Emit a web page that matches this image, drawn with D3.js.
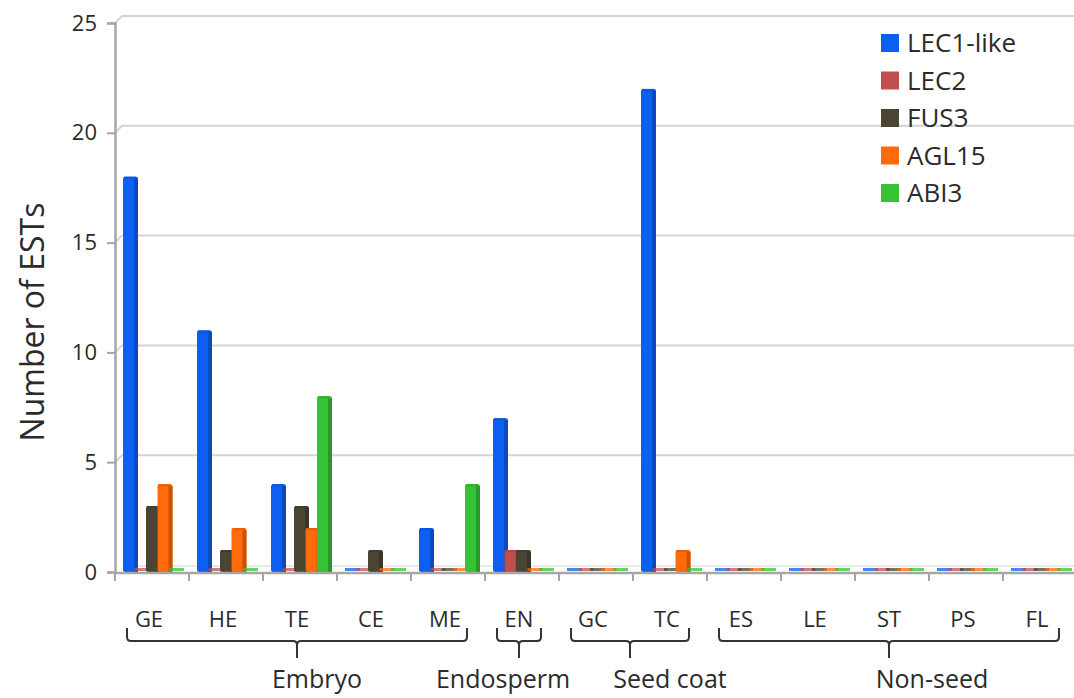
<!DOCTYPE html>
<html>
<head>
<meta charset="utf-8">
<script src="https://cdn.jsdelivr.net/npm/d3@7"></script>
<style>
html,body{margin:0;padding:0;background:#fff;}
svg{display:block;}
text{font-family:"Open Sans","Lato",sans-serif;fill:#2b2b2b;}
</style>
</head>
<body>
<svg id="chart" width="1074" height="698"></svg>
<script>
// ---- data ----
const categories = ["GE","HE","TE","CE","ME","EN","GC","TC","ES","LE","ST","PS","FL"];
const seriesNames = ["LEC1-like","LEC2","FUS3","AGL15","ABI3"];
const LEC1like = [18,11,4,0,2,7,0,22,0,0,0,0,0];
const LEC2     = [0,0,0,0,0,1,0,0,0,0,0,0,0];
const FUS3     = [3,1,3,1,0,1,0,0,0,0,0,0,0];
const AGL15    = [4,2,2,0,0,0,0,1,0,0,0,0,0];
const ABI3     = [0,0,8,0,4,0,0,0,0,0,0,0,0];
const yTicks = [0,5,10,15,20,25];
const groupNames = ["Embryo","Endosperm","Seed coat","Non-seed"];
const groupFirst = ["GE","EN","GC","ES"];
const groupLast  = ["ME","EN","TC","FL"];

// ---- styles / layout ----
const colors = ["#0d5ff2","#c0504d","#4a4532","#ff6a0a","#35c235"];
const seriesValues = [LEC1like, LEC2, FUS3, AGL15, ABI3];
const groupLabelShift = [20,-16,40,43];

const svg = d3.select("#chart");
const x = d3.scaleBand().domain(categories).range([115,1077]).paddingInner(0).paddingOuter(0);
const y = d3.scaleLinear().domain([0,25]).range([572,23]);
const depth = 7;
const barW = 15, barStep = 11.5, barOff = 8;

// gridlines (back wall)
const grid = svg.append("g");
yTicks.filter(t=>t>0).forEach(t=>{
  grid.append("path")
    .attr("d",`M115,${y(t)} L${115+depth},${y(t)-depth} L1074,${y(t)-depth}`)
    .attr("fill","none").attr("stroke","#d4d4d4").attr("stroke-width",2);
});
// back floor line
grid.append("line").attr("x1",115+depth).attr("x2",1074)
  .attr("y1",y(0)-depth+1).attr("y2",y(0)-depth+1)
  .attr("stroke","#e2e2e2").attr("stroke-width",1.5);

// y axis
const yAxis = d3.axisLeft(y).tickValues(yTicks).tickSize(8).tickPadding(10);
const ya = svg.append("g").attr("transform","translate(115,0)").call(yAxis);
ya.select(".domain").attr("stroke","#a6a6a6").attr("stroke-width",2.5);
ya.selectAll(".tick line").attr("stroke","#a6a6a6").attr("stroke-width",2);
ya.selectAll(".tick text").style("font-size","22px").style("font-family","'Open Sans',sans-serif").attr("fill","#333");

// bars
const bars = svg.append("g");
seriesValues.forEach((vals,si)=>{
  const c = d3.color(colors[si]);
  categories.forEach((cat,ci)=>{
    const v = vals[ci];
    const bx = x(cat) + barOff + si*barStep;
    if (v === 0) {
      bars.append("rect").attr("x",bx).attr("y",y(0)-4).attr("width",barW).attr("height",3)
        .attr("fill",colors[si]).attr("opacity",0.75);
    } else {
      const top = y(v);
      bars.append("rect").attr("x",bx).attr("y",top).attr("width",barW).attr("height",y(0)-top)
        .attr("fill",colors[si]).attr("rx",2);
      bars.append("rect").attr("x",bx+barW-4).attr("y",top+2).attr("width",4).attr("height",y(0)-top-2)
        .attr("fill",c.darker(0.7).formatHex());
      bars.append("rect").attr("x",bx+1).attr("y",top).attr("width",barW-3).attr("height",2)
        .attr("fill",c.darker(0.3).formatHex());
    }
  });
});

// x axis baseline + ticks
const xa = svg.append("g");
xa.append("line").attr("x1",115).attr("x2",1074).attr("y1",y(0)+1).attr("y2",y(0)+1)
  .attr("stroke","#a6a6a6").attr("stroke-width",2.5);
categories.forEach(cat=>{
  const tx = x(cat)+x.bandwidth();
  xa.append("line").attr("x1",tx).attr("x2",tx).attr("y1",y(0)+1).attr("y2",y(0)+9)
    .attr("stroke","#a6a6a6").attr("stroke-width",2);
});
xa.append("line").attr("x1",115).attr("x2",115).attr("y1",y(0)+1).attr("y2",y(0)+9)
  .attr("stroke","#a6a6a6").attr("stroke-width",2);

// category labels
svg.append("g").selectAll("text").data(categories).join("text")
  .attr("x",d=>x(d)+x.bandwidth()/2-3).attr("y",627)
  .attr("text-anchor","middle").style("font-size","22px").text(d=>d);

// braces + group labels
const br = svg.append("g");
groupNames.forEach((g,gi)=>{
  const x1 = x(groupFirst[gi]) + 12;
  const x2 = x(groupLast[gi]) + x.bandwidth() - 18;
  const cx = (x1+x2)/2;
  const yt = 628, yh = 641, yb = 658, r = 4;
  const d = `M${x1},${yt} L${x1},${yh-r} Q${x1},${yh} ${x1+r},${yh} L${cx-r},${yh} Q${cx},${yh} ${cx},${yh+r} L${cx},${yb}`
          + ` M${cx},${yh+r} Q${cx},${yh} ${cx+r},${yh} L${x2-r},${yh} Q${x2},${yh} ${x2},${yh-r} L${x2},${yt}`;
  br.append("path").attr("d",d).attr("fill","none").attr("stroke","#333").attr("stroke-width",2);
  br.append("text").attr("x",cx+groupLabelShift[gi]).attr("y",688).attr("text-anchor","middle")
    .style("font-size","25px").text(g);
});

// y title
svg.append("text").attr("transform","translate(44,322) rotate(-90)").attr("text-anchor","middle")
  .style("font-size","32px").text("Number of ESTs");

// legend
const lg = svg.append("g").attr("transform","translate(881,43)");
seriesNames.forEach((s,i)=>{
  const row = lg.append("g").attr("transform",`translate(0,${i*37.5})`);
  row.append("rect").attr("x",0).attr("y",-9).attr("width",18).attr("height",18).attr("fill",colors[i]);
  row.append("text").attr("x",26).attr("y",0).attr("dy","0.36em").style("font-size","26px").text(s);
});
</script>
</body>
</html>
